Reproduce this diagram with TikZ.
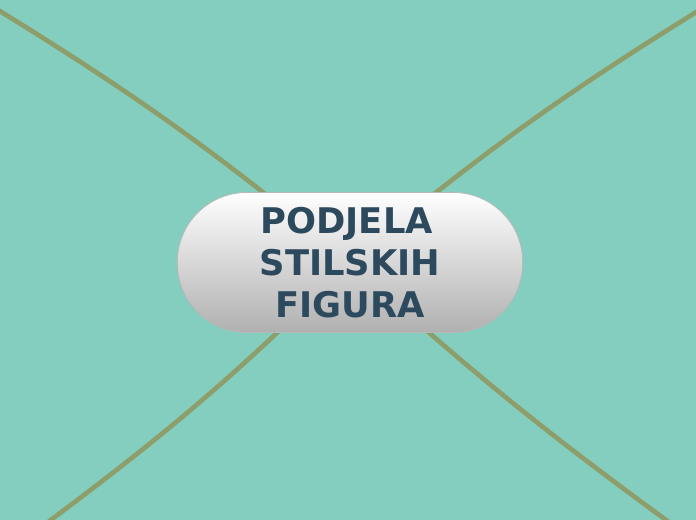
\documentclass[tikz,border=0pt]{standalone}
\usepackage{fontspec}
\newfontfamily\mapfont{DejaVu Sans}
\usetikzlibrary{positioning,backgrounds}
\definecolor{mapbg}{RGB}{132,206,192}
\definecolor{branch}{RGB}{142,158,106}
\definecolor{rootink}{RGB}{44,73,94}
\begin{document}
\begin{tikzpicture}[x=0.75pt,y=0.75pt] % one unit is one pixel of the map, y runs downwards as negative
\tikzset{rootnode/.style={rectangle, rounded corners=52pt, minimum width=259pt, minimum height=105pt, draw=black!28, line width=0.6pt, top color=white, bottom color=black!31, text=rootink, align=center, inner sep=0pt, font=\mapfont\bfseries\fontsize{26.5}{31.5}\selectfont}}
\tikzset{branchline/.style={draw=branch, line width=3.5pt}}
\useasboundingbox (0,0) rectangle (696,-520);
\node[rootnode] (root) at (350,-262.5) {PODJELA\hspace*{5pt}\\STILSKIH\\FIGURA};
% free ends of the branches, just outside the frame
\coordinate (nw) at (-10,-5);
\coordinate (ne) at (706,-6);
\coordinate (sw) at (40,-528);
\coordinate (se) at (677,-528);
\begin{pgfonlayer}{background}
\fill[mapbg] (0,0) rectangle (696,-520);
\draw[branchline] (root.center) to[bend right=4] (nw);
\draw[branchline] (root.center) to[bend left=4] (ne);
\draw[branchline] (root.center) to[bend left=4] (sw);
\draw[branchline] (root.center) to[bend right=3] (se);
\end{pgfonlayer}
\end{tikzpicture}
\end{document}
